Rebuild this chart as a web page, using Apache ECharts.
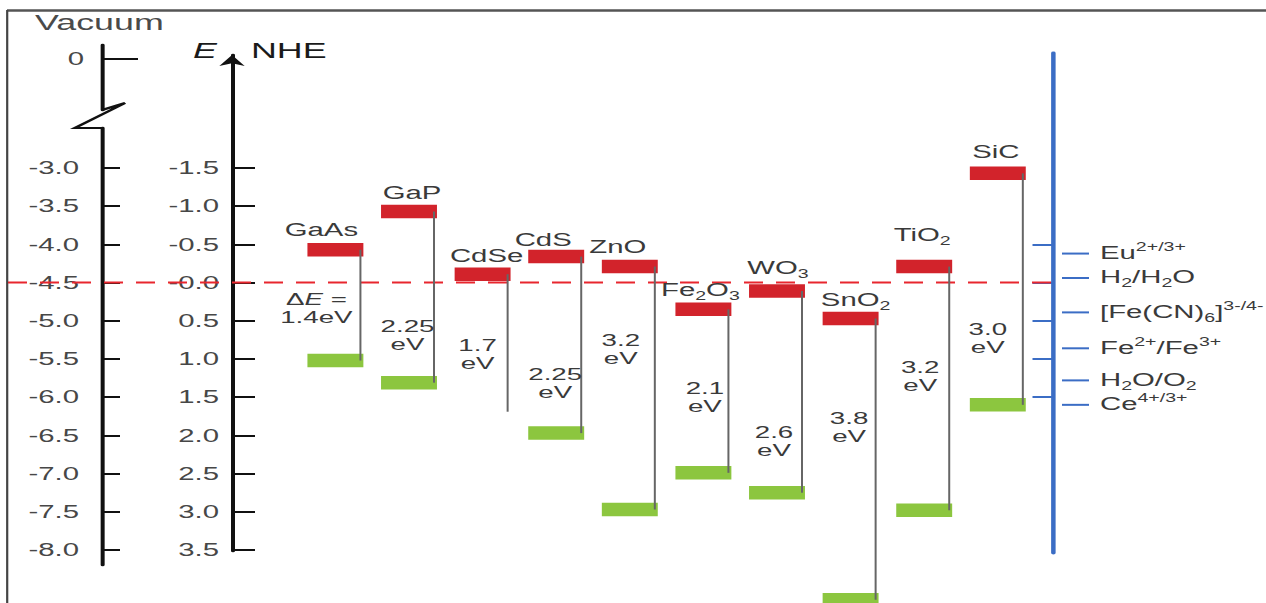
<!DOCTYPE html>
<html>
<head>
<meta charset="utf-8">
<script src="https://cdn.jsdelivr.net/npm/echarts@6/dist/echarts.min.js"></script>
<style>
html,body{margin:0;padding:0;background:#fff;overflow:hidden;}
#wrap{width:1266px;height:603px;overflow:hidden;position:relative;background:#fff;}
#chart{width:777px;height:603px;transform:scaleX(1.629344);transform-origin:0 0;}
</style>
</head>
<body>
<div id="wrap"><div id="chart"></div></div>
<script>
// ================= DATA =================
const materials = ['GaAs', 'GaP', 'CdSe', 'CdS', 'ZnO', 'Fe2O3', 'WO3', 'SnO2', 'TiO2', 'SiC'];
// band edges in eV vs NHE (conduction band = red bar, valence band = green bar)
const conductionBand = [-0.43, -0.93, -0.11, -0.34, -0.21, 0.35, 0.11, 0.47, -0.21, -1.43];
const valenceBand    = [1.02, 1.31, 1.69, 1.97, 2.97, 2.49, 2.75, 4.15, 2.98, 1.60];
const valenceBarShown = [true, true, false, true, true, true, true, true, true, true];
const bandGapLabels = ['1.4', '2.25', '1.7', '2.25', '3.2', '2.1', '2.6', '3.8', '3.2', '3.0'];

const nheTickLabels = ['-1.5', '-1.0', '-0.5', '-0.0', '0.5', '1.0', '1.5', '2.0', '2.5', '3.0', '3.5'];
const vacuumTickLabels = ['-3.0', '-3.5', '-4.0', '-4.5', '-5.0', '-5.5', '-6.0', '-6.5', '-7.0', '-7.5', '-8.0'];
const vacuumTopLabels = ['0'];

const redoxCouples = [
  '{n|Eu}{sup|2+/3+}',
  '{n|H}{sub|2}{n|/H}{sub|2}{n|O}',
  '{n|[Fe(CN)}{sub|6}{n|]}{sup|3-/4-}',
  '{n|Fe}{sup|2+}{n|/Fe}{sup|3+}',
  '{n|H}{sub|2}{n|O/O}{sub|2}',
  '{n|Ce}{sup|4+/3+}'
];
const redoxPotentials = [-0.38, -0.06, 0.39, 0.86, 1.28, 1.60];
const referenceScaleTicks = [-0.5, 0.0, 0.5, 1.0, 1.5];
const hydrogenLevel = 0.0;

// ================= LAYOUT (reference pixels) =================
const S = 1266 / 777;               // horizontal stretch of the reference picture
const X = v => v / S;
const PX_PER_EV = 76.4, ZERO_Y = 282.6;
const eAt = y => (y - ZERO_Y) / PX_PER_EV;
const vacAt = y => -4.5 - eAt(y);
// material-name offsets: [dx from category centre, dy from CB centre]
const nameOffset = [[-14, -20], [3, -19], [4, -18], [-13, -17], [-12, -20], [-3, -20], [1, -23], [5, -19], [-2, -32], [-2, -21.5]];
// gap-label placement: [dx from category centre, energy of label centre]
const gapLabelAt = [[-19, 0.33], [-1.5, 0.69], [-5, 0.94], [-1, 1.31], [-9, 0.87], [1.5, 1.50], [-3, 2.07], [-1.5, 1.89], [-4, 1.22], [-10, 0.725]];

const FONT = "'Liberation Sans', Arial, Helvetica, sans-serif";
const TXT = '#3a3a3a';
const RED = '#d2232b';
const GREEN = '#8cc63f';
const BLUE = '#3b6dc5';
const RICH = {
  n: {fontSize: 18, lineHeight: 24, fontFamily: FONT, color: TXT},
  sub: {fontSize: 12, lineHeight: 14, verticalAlign: 'bottom', fontFamily: FONT, color: TXT},
  sup: {fontSize: 12, lineHeight: 14, verticalAlign: 'top', fontFamily: FONT, color: TXT},
  g: {fontSize: 17, lineHeight: 18, fontFamily: FONT, color: TXT},
  gi: {fontSize: 17, lineHeight: 18, fontStyle: 'italic', fontFamily: FONT, color: TXT}
};
const formatName = s => s.split(/(\d)/).filter(t => t).map(t => /\d/.test(t) ? '{sub|' + t + '}' : '{n|' + t + '}').join('');
const gapText = i => i === 0
  ? '{g|\u0394}{gi|E}{g| =}\n{g|' + bandGapLabels[i] + 'eV}'
  : '{g|' + bandGapLabels[i] + '}\n{g|eV}';

const chart = echarts.init(document.getElementById('chart'), null, {renderer: 'svg'});

const labelStyle = {fontSize: 18, color: '#474747', fontFamily: FONT};
const hidX = (g) => ({gridIndex: g, type: 'value', min: 0, max: 1, show: false});

const option = {
  animation: false,
  backgroundColor: '#fff',
  grid: [
    {left: X(298.6), width: X(736), top: 0, height: 603, outerBoundsMode: 'none'},      // 0 materials
    {left: X(102), width: 20, top: 45, height: 65, outerBoundsMode: 'none'},            // 1 vacuum upper
    {left: X(102), width: 20, top: 128, height: 437, outerBoundsMode: 'none'},          // 2 vacuum lower
    {left: X(232), width: 20, top: 55, height: 496, outerBoundsMode: 'none'},           // 3 NHE
    {left: X(1053.5), width: 10, top: 53, height: 500, outerBoundsMode: 'none'},        // 4 blue scale
    {left: X(1062), width: X(27), top: 0, height: 603, outerBoundsMode: 'none'},        // 5 redox
    {left: X(8), width: X(1044), top: 0, height: 603, outerBoundsMode: 'none'}          // 6 dashed
  ],
  xAxis: [
    {gridIndex: 0, type: 'category', data: materials, show: false},
    hidX(1), hidX(2), hidX(3), hidX(4), hidX(5), hidX(6)
  ],
  yAxis: [
    {gridIndex: 0, type: 'value', inverse: true, min: eAt(0), max: eAt(603), show: false},
    {
      gridIndex: 1, type: 'value', min: -(110 - 59) / PX_PER_EV, max: (59 - 45) / PX_PER_EV,
      axisLine: {show: true, lineStyle: {color: '#111', width: X(4)}},
      axisTick: {show: true, inside: true, length: X(36), lineStyle: {color: '#111', width: 2}, customValues: [0]},
      axisLabel: {show: true, customValues: [0], formatter: () => vacuumTopLabels[0], margin: X(18), ...labelStyle},
      splitLine: {show: false}
    },
    {
      gridIndex: 2, type: 'value', min: vacAt(565), max: vacAt(128),
      axisLine: {show: true, lineStyle: {color: '#111', width: X(4)}},
      axisTick: {show: true, inside: true, length: X(18), lineStyle: {color: '#111', width: 2}, customValues: vacuumTickLabels.map(Number)},
      axisLabel: {
        show: true, customValues: vacuumTickLabels.map(Number), margin: X(23),
        formatter: v => vacuumTickLabels[vacuumTickLabels.map(Number).findIndex(t => Math.abs(t - v) < 1e-6)], ...labelStyle
      },
      splitLine: {show: false}
    },
    {
      gridIndex: 3, type: 'value', inverse: true, min: eAt(55), max: eAt(551),
      axisLine: {show: true, symbol: ['none', 'arrow'], symbolSize: [X(19), 11], lineStyle: {color: '#111', width: X(4)}},
      axisTick: {show: true, inside: true, length: X(23), lineStyle: {color: '#111', width: 2}, customValues: nheTickLabels.map(Number)},
      axisLabel: {
        show: true, customValues: nheTickLabels.map(Number), margin: X(13),
        formatter: v => nheTickLabels[nheTickLabels.map(Number).findIndex(t => Math.abs(t - v) < 1e-6)], ...labelStyle
      },
      splitLine: {show: false}
    },
    {
      gridIndex: 4, type: 'value', inverse: true, min: eAt(53), max: eAt(553),
      axisLine: {show: true, lineStyle: {color: BLUE, width: X(4.5)}},
      axisTick: {show: true, inside: false, length: X(21), lineStyle: {color: BLUE, width: 2}, customValues: referenceScaleTicks},
      axisLabel: {show: false},
      splitLine: {show: false}
    },
    {gridIndex: 5, type: 'value', inverse: true, min: eAt(0), max: eAt(603), show: false},
    {gridIndex: 6, type: 'value', inverse: true, min: eAt(0), max: eAt(603), show: false}
  ],
  graphic: [
    {type: 'line', shape: {x1: X(7), y1: 10.5, x2: X(1266), y2: 10.5}, style: {stroke: '#555', lineWidth: 2.5}, silent: true},
    {type: 'line', shape: {x1: X(7.2), y1: 10, x2: X(7.2), y2: 603}, style: {stroke: '#444', lineWidth: X(2.2)}, silent: true},
    {type: 'polyline', shape: {points: [[X(102), 110], [X(125), 103], [X(75), 128], [X(102), 128]]}, style: {stroke: '#111', lineWidth: 2.2, fill: null}, silent: true},
    {type: 'text', x: X(35), y: 22.5, style: {text: 'Vacuum', fontSize: 22, fontFamily: FONT, fill: '#4a4a4a', verticalAlign: 'middle'}, silent: true},
    {type: 'text', x: X(217), y: 50, style: {text: 'E', fontSize: 22, fontStyle: 'italic', fontFamily: FONT, fill: '#1a1a1a', align: 'right', verticalAlign: 'middle'}, silent: true},
    {type: 'text', x: X(251), y: 50, style: {text: 'NHE', fontSize: 22, fontFamily: FONT, fill: '#1a1a1a', align: 'left', verticalAlign: 'middle'}, silent: true}
  ],
  series: [
    {
      type: 'line', xAxisIndex: 6, yAxisIndex: 6, silent: true, symbol: 'none', z: 1,
      data: [[0, hydrogenLevel], [1, hydrogenLevel]],
      lineStyle: {color: '#e8262e', width: 2, type: [X(19), X(13)]}
    },
    {
      type: 'custom', xAxisIndex: 0, yAxisIndex: 0, silent: true, z: 2,
      data: materials.map((m, i) => [i, conductionBand[i], valenceBand[i]]),
      renderItem: function (params, api) {
        const i = api.value(0);
        const cb = api.coord([i, api.value(1)]);
        const vb = api.coord([i, api.value(2)]);
        const band = api.size([1, 0])[0];
        const w = band * 0.76, h = 13.5;
        const ch = [];
        ch.push({type: 'rect', shape: {x: cb[0] - w / 2, y: cb[1] - h / 2, width: w, height: h}, style: {fill: RED}});
        if (valenceBarShown[i]) {
          ch.push({type: 'rect', shape: {x: vb[0] - w / 2, y: vb[1] - h / 2, width: w, height: h}, style: {fill: GREEN}});
        }
        const lx = cb[0] + band * 0.34;
        ch.push({type: 'line', shape: {x1: lx, y1: cb[1], x2: lx, y2: vb[1]}, style: {stroke: '#666', lineWidth: X(2)}});
        const no = nameOffset[i];
        ch.push({type: 'text', x: cb[0] + X(no[0]), y: cb[1] + no[1],
          style: {text: formatName(materials[i]), align: 'center', verticalAlign: 'middle', fill: TXT, fontSize: 18, fontFamily: FONT, rich: RICH}});
        const go = gapLabelAt[i];
        const gy = api.coord([i, go[1]])[1];
        ch.push({type: 'text', x: cb[0] + X(go[0]), y: gy,
          style: {text: gapText(i), align: 'center', verticalAlign: 'middle', fill: TXT, fontSize: 17, fontFamily: FONT, rich: RICH}});
        return {type: 'group', children: ch};
      }
    },
    {
      type: 'custom', xAxisIndex: 5, yAxisIndex: 5, silent: true, z: 2,
      data: redoxPotentials.map((e, i) => [0, e, i]),
      renderItem: function (params, api) {
        const idx = api.value(2);
        const a = api.coord([0, api.value(1)]);
        const b = api.coord([1, api.value(1)]);
        return {type: 'group', children: [
          {type: 'line', shape: {x1: a[0], y1: a[1], x2: b[0], y2: b[1]}, style: {stroke: BLUE, lineWidth: 2}},
          {type: 'text', x: b[0] + X(11), y: a[1] - 1,
            style: {text: redoxCouples[idx], align: 'left', verticalAlign: 'middle', fill: TXT, fontSize: 18, fontFamily: FONT, rich: RICH}}
        ]};
      }
    }
  ]
};
chart.setOption(option);
</script>
</body>
</html>
